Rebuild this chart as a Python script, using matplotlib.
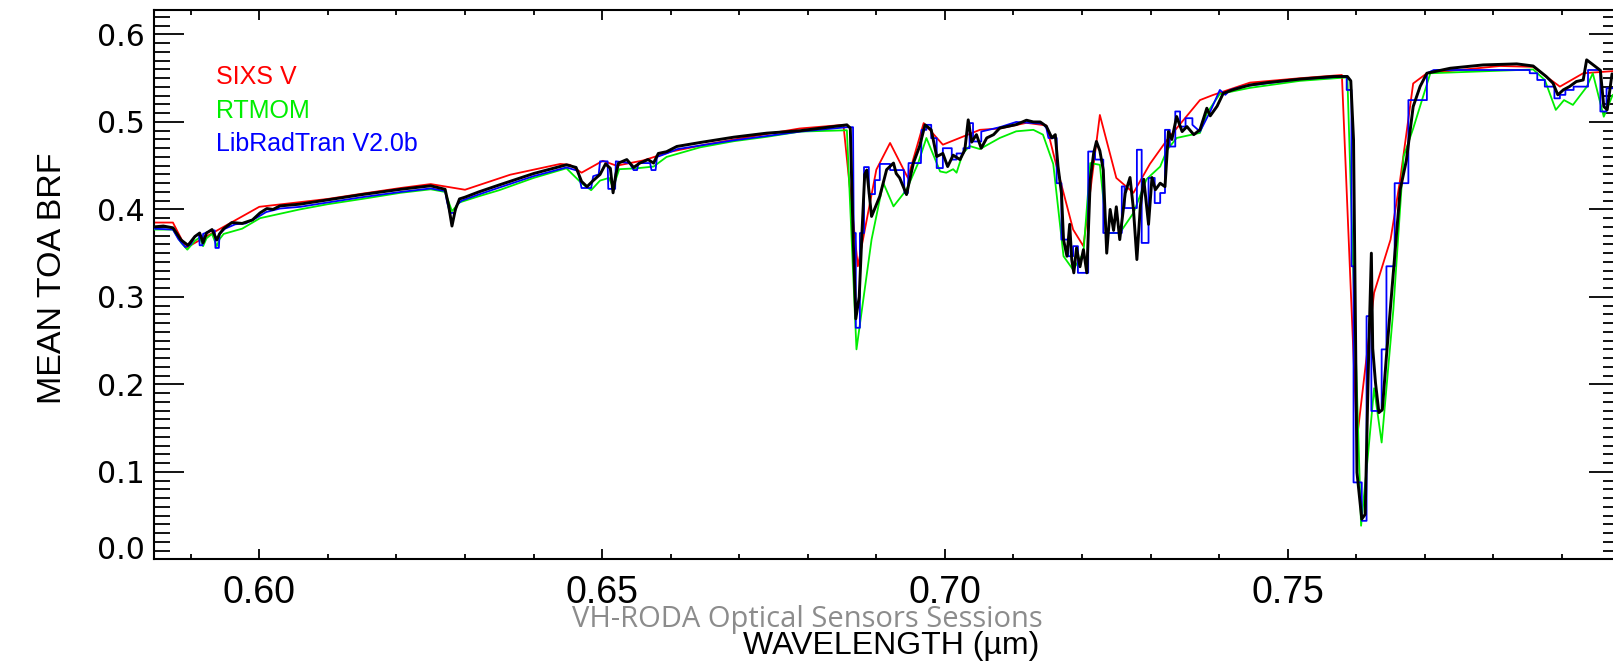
import matplotlib
matplotlib.use("Agg")
import matplotlib.pyplot as plt
from matplotlib.ticker import MultipleLocator, FormatStrFormatter
from matplotlib.transforms import ScaledTranslation

# measured TOA BRF (black)
wl_obs = [0.5846, 0.5860, 0.5874, 0.5880, 0.5886, 0.5896, 0.5906, 0.5913, 0.5918, 0.5923,
          0.5931, 0.5938, 0.5942, 0.5948, 0.5960, 0.5975, 0.5990, 0.6001, 0.6011, 0.6020,
          0.6030, 0.6059, 0.6100, 0.6150, 0.6206, 0.6250, 0.6271, 0.6276, 0.6281, 0.6286,
          0.6292, 0.6300, 0.6320, 0.6350, 0.6400, 0.6448, 0.6462, 0.6470, 0.6478, 0.6487,
          0.6497, 0.6505, 0.6512, 0.6516, 0.6520, 0.6524, 0.6536, 0.6546, 0.6555, 0.6567,
          0.6575, 0.6582, 0.6594, 0.6609, 0.6643, 0.6692, 0.6740, 0.6789, 0.6857, 0.6862,
          0.6866, 0.6870, 0.6875, 0.6879, 0.6883, 0.6886, 0.6893, 0.6905, 0.6915, 0.6925,
          0.6929, 0.6934, 0.6944, 0.6954, 0.6963, 0.6971, 0.6980, 0.6988, 0.6997, 0.7004,
          0.7012, 0.7022, 0.7029, 0.7034, 0.7039, 0.7046, 0.7053, 0.7061, 0.7071, 0.7080,
          0.7090, 0.7104, 0.7119, 0.7129, 0.7139, 0.7148, 0.7156, 0.7161, 0.7165, 0.7170,
          0.7173, 0.7178, 0.7182, 0.7185, 0.7188, 0.7192, 0.7197, 0.7202, 0.7207, 0.7212,
          0.7217, 0.7221, 0.7226, 0.7231, 0.7236, 0.7241, 0.7246, 0.7250, 0.7255, 0.7263,
          0.7270, 0.7275, 0.7280, 0.7285, 0.7290, 0.7297, 0.7302, 0.7307, 0.7314, 0.7321,
          0.7326, 0.7331, 0.7338, 0.7346, 0.7353, 0.7363, 0.7372, 0.7382, 0.7387, 0.7397,
          0.7406, 0.7421, 0.7445, 0.7470, 0.7518, 0.7567, 0.7587, 0.7592, 0.7596, 0.7598,
          0.7601, 0.7608, 0.7613, 0.7618, 0.7622, 0.7624, 0.7628, 0.7633, 0.7638, 0.7644,
          0.7654, 0.7664, 0.7673, 0.7683, 0.7693, 0.7703, 0.7737, 0.7785, 0.7834, 0.7858,
          0.7868, 0.7877, 0.7887, 0.7894, 0.7902, 0.7911, 0.7921, 0.7931, 0.7936, 0.7946,
          0.7956, 0.7961, 0.7966, 0.7973, 0.7985]
brf_obs = [0.380, 0.381, 0.379, 0.372, 0.365, 0.359, 0.369, 0.373, 0.362, 0.373,
           0.377, 0.365, 0.372, 0.378, 0.385, 0.384, 0.388, 0.396, 0.401, 0.400,
           0.404, 0.406, 0.411, 0.417, 0.423, 0.427, 0.423, 0.405, 0.381, 0.400,
           0.412, 0.414, 0.420, 0.428, 0.441, 0.451, 0.448, 0.432, 0.426, 0.433,
           0.440, 0.452, 0.447, 0.419, 0.440, 0.453, 0.457, 0.448, 0.453, 0.457,
           0.453, 0.464, 0.466, 0.472, 0.4765, 0.4826, 0.4872, 0.490, 0.4967, 0.493,
           0.373, 0.275, 0.300, 0.373, 0.440, 0.445, 0.392, 0.415, 0.4455, 0.453,
           0.441, 0.436, 0.417, 0.453, 0.472, 0.4967, 0.491, 0.4605, 0.464, 0.449,
           0.462, 0.457, 0.468, 0.5024, 0.477, 0.4855, 0.470, 0.4817, 0.4855, 0.493,
           0.4947, 0.497, 0.502, 0.500, 0.500, 0.495, 0.4817, 0.4855, 0.449, 0.4185,
           0.3655, 0.3465, 0.383, 0.3425, 0.3275, 0.356, 0.3345, 0.354, 0.3275, 0.434,
           0.4645, 0.4777, 0.467, 0.445, 0.350, 0.400, 0.376, 0.403, 0.3655, 0.4185,
           0.4365, 0.400, 0.3427, 0.403, 0.4345, 0.383, 0.4365, 0.4225, 0.430, 0.426,
           0.489, 0.480, 0.5062, 0.489, 0.4947, 0.4855, 0.4911, 0.5157, 0.507, 0.518,
           0.5328, 0.537, 0.5423, 0.545, 0.549, 0.552, 0.552, 0.547, 0.4796, 0.328,
           0.0993, 0.046, 0.0514, 0.2323, 0.350, 0.241, 0.202, 0.1677, 0.171, 0.2323,
           0.3275, 0.4225, 0.4557, 0.5176, 0.5404, 0.5557, 0.5614, 0.5652, 0.5664, 0.564,
           0.5576, 0.552, 0.5443, 0.531, 0.5367, 0.5405, 0.5462, 0.548, 0.571, 0.565,
           0.559, 0.5176, 0.514, 0.555, 0.550]

# SIXS V (red)
wl_6s = [0.5846, 0.5874, 0.5893, 0.6000, 0.6100, 0.6150, 0.6206, 0.6250, 0.6300, 0.6366,
         0.6439, 0.6453, 0.6470, 0.6501, 0.6521, 0.6560, 0.6600, 0.6650, 0.6700, 0.6788,
         0.6852, 0.6873, 0.6900, 0.6920, 0.6946, 0.6969, 0.6997, 0.7051, 0.7080, 0.7119,
         0.7148, 0.7162, 0.7187, 0.7202, 0.7226, 0.7250, 0.7275, 0.7299, 0.7324, 0.7372,
         0.7391, 0.7445, 0.7518, 0.7579, 0.7601, 0.7626, 0.7650, 0.7664, 0.7683, 0.7703,
         0.7810, 0.7858, 0.7877, 0.7897, 0.7931, 0.7990]
brf_6s = [0.385, 0.385, 0.356, 0.403, 0.412, 0.418, 0.4245, 0.429, 0.4225, 0.4397,
          0.452, 0.451, 0.442, 0.4556, 0.450, 0.456, 0.466, 0.474, 0.481, 0.4925,
          0.4967, 0.335, 0.4455, 0.476, 0.436, 0.4987, 0.474, 0.491, 0.4925, 0.499,
          0.496, 0.452, 0.377, 0.358, 0.508, 0.436, 0.419, 0.452, 0.4795, 0.525,
          0.5308, 0.545, 0.550, 0.5537, 0.1373, 0.3047, 0.3655, 0.434, 0.544, 0.5557,
          0.564, 0.563, 0.552, 0.5404, 0.5557, 0.559]

# RTMOM (green)
wl_rtm = [0.5846, 0.5874, 0.5886, 0.5895, 0.5906, 0.5913, 0.5918, 0.5923, 0.5931, 0.5938,
          0.5942, 0.5948, 0.5975, 0.6001, 0.6059, 0.6100, 0.6150, 0.6206, 0.6250, 0.6271,
          0.6281, 0.6292, 0.6320, 0.6350, 0.6400, 0.6448, 0.6470, 0.6484, 0.6497, 0.6510,
          0.6516, 0.6525, 0.6550, 0.6575, 0.6594, 0.6643, 0.6692, 0.6740, 0.6789, 0.6857,
          0.6871, 0.6893, 0.6910, 0.6925, 0.6944, 0.6961, 0.6973, 0.6993, 0.7002, 0.7012,
          0.7017, 0.7026, 0.7036, 0.7051, 0.7080, 0.7104, 0.7129, 0.7143, 0.7158, 0.7173,
          0.7187, 0.7202, 0.7212, 0.7226, 0.7236, 0.7255, 0.7275, 0.7294, 0.7314, 0.7324,
          0.7338, 0.7372, 0.7382, 0.7401, 0.7445, 0.7518, 0.7587, 0.7607, 0.7617, 0.7626,
          0.7637, 0.7654, 0.7669, 0.7683, 0.7708, 0.7858, 0.7875, 0.7891, 0.7903, 0.7916,
          0.7936, 0.7945, 0.7961, 0.7974, 0.7990]
brf_rtm = [0.377, 0.377, 0.362, 0.354, 0.364, 0.368, 0.358, 0.367, 0.372, 0.358,
           0.366, 0.372, 0.378, 0.390, 0.400, 0.406, 0.412, 0.419, 0.423, 0.420,
           0.398, 0.408, 0.415, 0.422, 0.436, 0.447, 0.430, 0.422, 0.433, 0.436,
           0.425, 0.446, 0.447, 0.449, 0.460, 0.471, 0.478, 0.483, 0.489, 0.4905,
           0.240, 0.3655, 0.4305, 0.4035, 0.4225, 0.453, 0.4817, 0.4434, 0.442, 0.446,
           0.442, 0.464, 0.4725, 0.469, 0.4817, 0.4893, 0.491, 0.4855, 0.452, 0.3465,
           0.331, 0.350, 0.453, 0.451, 0.373, 0.373, 0.396, 0.4345, 0.449, 0.468,
           0.4817, 0.4875, 0.510, 0.532, 0.539, 0.547, 0.551, 0.0384, 0.1186, 0.1956,
           0.1335, 0.2848, 0.4605, 0.4925, 0.5557, 0.560, 0.548, 0.5138, 0.525, 0.5195,
           0.540, 0.5557, 0.506, 0.531, 0.531]

# LibRadTran V2.0b (blue), coarse bins -> square corners inside the bands
wl_lrt = [0.5846, 0.5874, 0.5882, 0.5892, 0.5900, 0.5906, 0.5912, 0.5913, 0.5917, 0.5918,
          0.5930, 0.5935, 0.5936, 0.5941, 0.5942, 0.5950, 0.5965, 0.5980, 0.5995, 0.6010,
          0.6030, 0.6060, 0.6100, 0.6150, 0.6206, 0.6250, 0.6271, 0.6274, 0.6278, 0.6285,
          0.6288, 0.6295, 0.6320, 0.6350, 0.6400, 0.6448, 0.6465, 0.6470, 0.6484, 0.6487,
          0.6495, 0.6497, 0.6508, 0.6509, 0.6519, 0.6520, 0.6540, 0.6546, 0.6551, 0.6553,
          0.6570, 0.6572, 0.6578, 0.6580, 0.6594, 0.6610, 0.6643, 0.6692, 0.6740, 0.6789,
          0.6857, 0.6866, 0.6867, 0.6870, 0.6870, 0.6876, 0.6876, 0.6882, 0.6882, 0.6889,
          0.6889, 0.6898, 0.6898, 0.6905, 0.6905, 0.6920, 0.6920, 0.6940, 0.6941, 0.6946,
          0.6947, 0.6965, 0.6966, 0.6973, 0.6973, 0.6980, 0.6980, 0.6988, 0.6988, 0.6997,
          0.6997, 0.7010, 0.7010, 0.7017, 0.7017, 0.7027, 0.7027, 0.7036, 0.7036, 0.7041,
          0.7041, 0.7053, 0.7053, 0.7080, 0.7104, 0.7143, 0.7148, 0.7151, 0.7163, 0.7163,
          0.7170, 0.7170, 0.7180, 0.7180, 0.7187, 0.7187, 0.7194, 0.7194, 0.7209, 0.7209,
          0.7219, 0.7219, 0.7231, 0.7231, 0.7258, 0.7258, 0.7262, 0.7262, 0.7280, 0.7280,
          0.7287, 0.7287, 0.7297, 0.7297, 0.7306, 0.7306, 0.7314, 0.7314, 0.7321, 0.7321,
          0.7328, 0.7328, 0.7336, 0.7336, 0.7343, 0.7343, 0.7351, 0.7351, 0.7361, 0.7361,
          0.7372, 0.7387, 0.7401, 0.7409, 0.7416, 0.7433, 0.7470, 0.7518, 0.7586, 0.7586,
          0.7593, 0.7593, 0.7596, 0.7596, 0.7608, 0.7608, 0.7615, 0.7615, 0.7622, 0.7622,
          0.7637, 0.7637, 0.7644, 0.7644, 0.7656, 0.7656, 0.7676, 0.7676, 0.7703, 0.7703,
          0.7713, 0.7853, 0.7853, 0.7864, 0.7864, 0.7875, 0.7875, 0.7889, 0.7889, 0.7897,
          0.7897, 0.7905, 0.7905, 0.7917, 0.7917, 0.7938, 0.7938, 0.7956, 0.7956, 0.7965,
          0.7965, 0.7990]
brf_lrt = [0.378, 0.377, 0.366, 0.357, 0.360, 0.369, 0.372, 0.359, 0.359, 0.372,
           0.376, 0.376, 0.356, 0.356, 0.372, 0.378, 0.383, 0.384, 0.390, 0.397,
           0.401, 0.403, 0.408, 0.414, 0.420, 0.424, 0.421, 0.408, 0.396, 0.396,
           0.405, 0.410, 0.417, 0.425, 0.438, 0.448, 0.444, 0.4245, 0.4245, 0.438,
           0.440, 0.455, 0.455, 0.4235, 0.4235, 0.455, 0.453, 0.445, 0.445, 0.453,
           0.453, 0.445, 0.445, 0.460, 0.464, 0.469, 0.473, 0.479, 0.484, 0.489,
           0.494, 0.494, 0.373, 0.373, 0.2647, 0.2647, 0.373, 0.373, 0.4484, 0.4484,
           0.4175, 0.4175, 0.4335, 0.4335, 0.452, 0.452, 0.445, 0.445, 0.4187, 0.4187,
           0.453, 0.453, 0.491, 0.491, 0.4967, 0.4967, 0.4815, 0.4815, 0.4473, 0.4473,
           0.470, 0.470, 0.457, 0.457, 0.464, 0.464, 0.470, 0.470, 0.4987, 0.4987,
           0.4777, 0.4777, 0.489, 0.494, 0.500, 0.498, 0.493, 0.4817, 0.4817, 0.430,
           0.430, 0.3655, 0.3655, 0.3465, 0.3465, 0.358, 0.358, 0.3275, 0.3275, 0.4662,
           0.4662, 0.457, 0.457, 0.3731, 0.3731, 0.4263, 0.4263, 0.4016, 0.4016, 0.4682,
           0.4682, 0.3617, 0.3617, 0.436, 0.436, 0.4073, 0.4073, 0.4188, 0.4188, 0.491,
           0.491, 0.4719, 0.4719, 0.512, 0.512, 0.4947, 0.4947, 0.5043, 0.5043, 0.4967,
           0.489, 0.512, 0.5366, 0.531, 0.5366, 0.5404, 0.5442, 0.549, 0.552, 0.5366,
           0.5366, 0.335, 0.335, 0.0879, 0.0879, 0.044, 0.044, 0.278, 0.278, 0.1696,
           0.1696, 0.240, 0.240, 0.335, 0.335, 0.430, 0.430, 0.525, 0.525, 0.5557,
           0.5594, 0.5594, 0.5557, 0.5557, 0.548, 0.548, 0.5404, 0.5404, 0.527, 0.527,
           0.531, 0.531, 0.5366, 0.5366, 0.5404, 0.5404, 0.5594, 0.5594, 0.512, 0.512,
           0.5385, 0.5385]

legend_names = ["SIXS V", "RTMOM", "LibRadTran V2.0b"]
legend_colors = ["#ff0000", "#00ee00", "#0000ff"]

W, H = 1613, 663
fig = plt.figure(figsize=(W / 100, H / 100), dpi=100)
# axes box: left spine at x=154 px, right spine just past the image edge
ax = fig.add_axes([154 / W, (H - 559.3) / H, (1619 - 154) / W, (559.3 - 10) / H])

ax.plot(wl_6s, brf_6s, color="#ff0000", lw=1.3, zorder=2)
ax.plot(wl_rtm, brf_rtm, color="#00ee00", lw=1.3, zorder=3)
ax.plot(wl_lrt, brf_lrt, color="#0000ff", lw=1.3, zorder=4)
ax.plot(wl_obs, brf_obs, color="black", lw=2.1, zorder=5)

ax.set_xlim(0.58464, 0.79832)
ax.set_ylim(0.0, 0.628)

ax.xaxis.set_major_locator(MultipleLocator(0.05))
ax.xaxis.set_minor_locator(MultipleLocator(0.01))
ax.yaxis.set_major_locator(MultipleLocator(0.1))
ax.yaxis.set_minor_locator(MultipleLocator(0.01))
ax.xaxis.set_major_formatter(FormatStrFormatter("%.2f"))
ax.yaxis.set_major_formatter(FormatStrFormatter("%.1f"))

for s in ax.spines.values():
    s.set_linewidth(1.5)

ax.tick_params(axis="x", which="major", direction="in", top=True, length=7.2, width=1.3,
               pad=11, labelsize=27)
ax.tick_params(axis="x", which="minor", direction="in", top=True, length=3.6, width=1.3)
ax.tick_params(axis="y", which="major", direction="in", right=True, length=21.6, width=1.3,
               pad=6.5, labelsize=21.5)
ax.tick_params(axis="y", which="minor", direction="in", right=True, length=11.5, width=1.3)

for lab in ax.get_xticklabels():
    lab.set_fontfamily(["Liberation Sans", "DejaVu Sans"])
for lab in ax.get_yticklabels():
    lab.set_fontfamily("DejaVu Sans")

ax.set_ylabel("MEAN TOA BRF", fontsize=24.5, fontfamily=["Liberation Sans", "DejaVu Sans"])
ax.yaxis.label.set_va("baseline")
ax.yaxis.set_label_coords((61.5 - 154) / 1465, 0.512)

fig.text(891 / W, 1 - 654 / H, "WAVELENGTH (µm)", fontsize=23, ha="center", va="baseline",
         fontfamily=["Liberation Sans", "DejaVu Sans"])

for name, col, base in zip(legend_names, legend_colors, [84, 117.5, 151]):
    fig.text(216 / W, 1 - base / H, name, color=col, fontsize=18, va="baseline",
             fontfamily=["Liberation Sans", "DejaVu Sans"])

fig.text(807 / W, 1 - 620 / H, "VH-RODA Optical Sensors Sessions", color="#8c8c8c",
         fontsize=21, ha="center", va="center", fontfamily=["Open Sans", "DejaVu Sans"],
         zorder=10)

# IDL lifts the lowest y label off the corner
fig.canvas.draw()
for tick in ax.yaxis.get_major_ticks():
    if tick.label1.get_text() == "0.0":
        tick.label1.set_transform(tick.label1.get_transform()
                                  + ScaledTranslation(0, 12 / 100, fig.dpi_scale_trans))

fig.savefig("out.png", dpi=100)
